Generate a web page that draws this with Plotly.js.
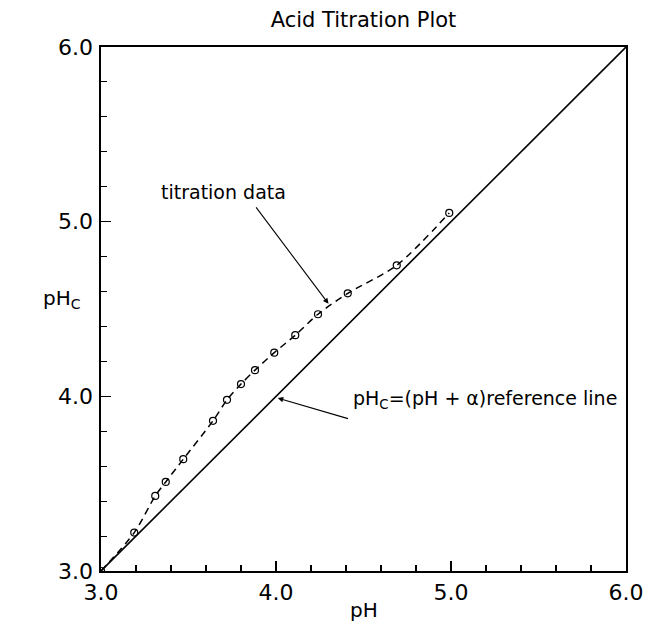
<!DOCTYPE html>
<html>
<head>
<meta charset="utf-8">
<script src="https://cdn.plot.ly/plotly-3.0.1.min.js"></script>
<style>html,body{margin:0;padding:0;background:#fff;}#chart{width:645px;height:621px;}</style>
</head>
<body>
<div id="chart"></div>
<script>
// Titration data
const pH  = [3.00, 3.19, 3.31, 3.37, 3.47, 3.64, 3.72, 3.80, 3.88, 3.99, 4.11, 4.24, 4.41, 4.69, 4.99];
const pHc = [3.00, 3.22, 3.43, 3.51, 3.64, 3.86, 3.98, 4.07, 4.15, 4.25, 4.35, 4.47, 4.59, 4.75, 5.05];
// Reference line pHc = pH + alpha
const refX = [3.0, 6.0];
const refY = [3.0, 6.0];
const tickVals = [3, 4, 5, 6];
const tickText = ['3.0', '4.0', '5.0', '6.0'];

const FONT = 'DejaVu Sans, sans-serif';

const traces = [
  {
    x: refX, y: refY, type: 'scatter', mode: 'lines',
    line: {color: '#000', width: 1.6},
    hoverinfo: 'skip', showlegend: false
  },
  {
    x: pH, y: pHc, type: 'scatter', mode: 'lines+markers',
    line: {color: '#000', width: 1.5, dash: '7px,5px', shape: 'spline', smoothing: 0.8},
    marker: {symbol: 'circle-open', size: 7, color: '#000', line: {width: 1.2, color: '#000'}},
    showlegend: false
  }
];

const axisCommon = {
  range: [3, 6],
  tickvals: tickVals, ticktext: tickText,
  ticks: 'inside', ticklen: 10, tickwidth: 1.3, tickcolor: '#000',
  minor: {dtick: 0.2, ticks: 'inside', ticklen: 6, tickwidth: 1.1, tickcolor: '#000'},
  showline: true, linecolor: '#000', linewidth: 1.6, mirror: true,
  showgrid: false, zeroline: false,
  tickfont: {family: FONT, size: 22, color: '#000'},
  fixedrange: true
};

const layout = {
  width: 645, height: 621,
  margin: {l: 101, r: 19, t: 47, b: 50},
  paper_bgcolor: '#fff', plot_bgcolor: '#fff',
  title: {
    text: 'Acid Titration Plot',
    font: {family: FONT, size: 21, color: '#000'},
    xref: 'paper', x: 0.5, xanchor: 'center',
    yref: 'container', y: 0.968, yanchor: 'middle'
  },
  xaxis: Object.assign({}, axisCommon, {ticklabelstandoff: 1}),
  yaxis: Object.assign({}, axisCommon, {ticklabelstandoff: 2}),
  annotations: [
    {text: 'pH', xref: 'paper', yref: 'paper', x: 0.5, y: -0.075, xanchor: 'center', yanchor: 'middle',
     showarrow: false, font: {family: FONT, size: 20, color: '#000'}},
    {text: 'pH<sub>C</sub>', xref: 'paper', yref: 'paper', x: -0.075, y: 0.52, xanchor: 'center', yanchor: 'middle',
     showarrow: false, font: {family: FONT, size: 20, color: '#000'}},
    {text: 'titration data', xref: 'x', yref: 'y', x: 3.70, y: 5.17, xanchor: 'center', yanchor: 'middle',
     showarrow: false, font: {family: FONT, size: 19, color: '#000'}},
    {text: '', xref: 'x', yref: 'y', x: 4.30, y: 4.53, axref: 'x', ayref: 'y', ax: 3.88, ay: 5.09,
     showarrow: true, arrowhead: 2, arrowsize: 1, arrowwidth: 1.1, arrowcolor: '#000', standoff: 0},
    {text: 'pH<sub>C</sub>=(pH + α)reference line', xref: 'x', yref: 'y', x: 4.43, y: 3.98, xanchor: 'left', yanchor: 'middle',
     showarrow: false, font: {family: FONT, size: 19, color: '#000'}},
    {text: '', xref: 'x', yref: 'y', x: 4.01, y: 3.99, axref: 'x', ayref: 'y', ax: 4.42, ay: 3.87,
     showarrow: true, arrowhead: 2, arrowsize: 1, arrowwidth: 1.1, arrowcolor: '#000', standoff: 0}
  ]
};

Plotly.newPlot('chart', traces, layout, {displayModeBar: false, staticPlot: true});
</script>
</body>
</html>
